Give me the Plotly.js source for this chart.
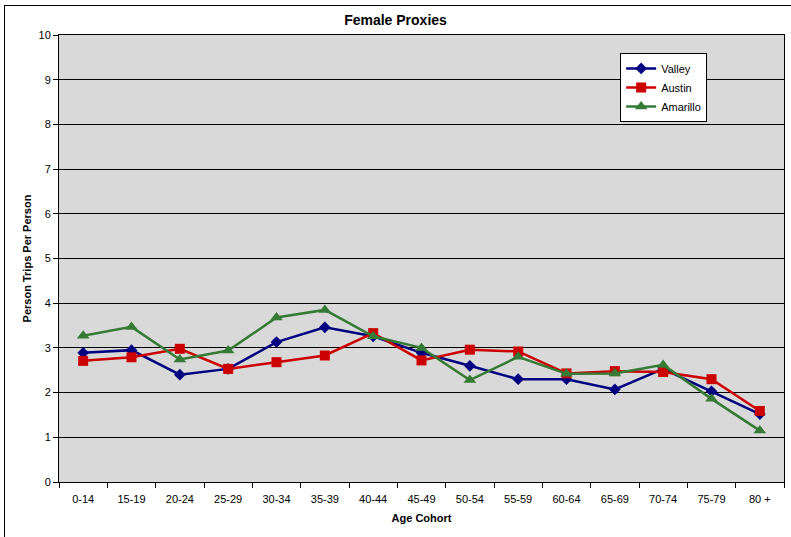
<!DOCTYPE html>
<html><head><meta charset="utf-8">
<script src="https://cdn.plot.ly/plotly-3.0.1.min.js"></script>
<style>
html,body{margin:0;padding:0;background:#fff;}
#chart{width:791px;height:537px;position:relative;}
#frame{position:absolute;left:4px;top:5px;width:800px;height:560px;border:1px solid #000;pointer-events:none;}
</style></head>
<body>
<div style="position:relative;width:791px;height:537px;overflow:hidden;">
<div id="chart"></div>
<div id="frame"></div>
</div>
<script>
const categories = ["0-14","15-19","20-24","25-29","30-34","35-39","40-44","45-49","50-54","55-59","60-64","65-69","70-74","75-79","80 +"];
const valley   = [2.89,2.95,2.40,2.53,3.13,3.46,3.26,2.89,2.60,2.30,2.30,2.07,2.53,2.03,1.52];
const austin   = [2.71,2.79,2.98,2.53,2.68,2.83,3.33,2.72,2.96,2.92,2.43,2.48,2.46,2.30,1.59];
const amarillo = [3.27,3.47,2.74,2.94,3.68,3.85,3.26,3.00,2.28,2.80,2.42,2.43,2.62,1.86,1.15];

const fnt = "'Liberation Sans Narrow','Arial Narrow','Liberation Sans',Arial,sans-serif";
function tr(name, y, color, symbol, size){
  return {x:categories, y:y, name:name, type:'scatter', mode:'lines+markers',
    line:{color:color, width:2.5}, marker:{color:color, symbol:symbol, size:size}};
}
const data = [
  tr('Valley', valley, '#000080', 'diamond', 9),
  tr('Austin', austin, '#cc0000', 'square', 10),
  tr('Amarillo', amarillo, '#357a35', 'triangle-up', 11)
];
const layout = {
  width:791, height:537,
  margin:{l:59, r:7, t:35, b:55},
  paper_bgcolor:'#ffffff', plot_bgcolor:'#d9d9d9',
  font:{family:fnt, size:11, color:'#000'},
  title:{text:'<b>Female Proxies</b>', x:0.5, xanchor:'center', y:0.962, yanchor:'middle', font:{family:fnt, size:14}},
  showlegend:true,
  legend:{x:0.774, y:0.96, xanchor:'left', yanchor:'top', bgcolor:'#ffffff', bordercolor:'#000', borderwidth:1,
    font:{family:"'Liberation Sans',Arial,sans-serif", size:11}, tracegroupgap:0, itemwidth:30},
  xaxis:{type:'category', tickson:'boundaries', ticks:'outside', ticklen:5, tickcolor:'#000',
    showgrid:false, showline:true, linecolor:'#000', linewidth:1, mirror:true,
    range:[-0.5,14.5], tickfont:{family:fnt, size:11}, ticklabelstandoff:7,
    title:{text:'<b>Age Cohort</b>', font:{family:fnt, size:11}, standoff:10}},
  yaxis:{range:[0,10], dtick:1, ticks:'outside', ticklen:5, tickcolor:'#000',
    showgrid:true, gridcolor:'#000', gridwidth:1, zeroline:false,
    showline:true, linecolor:'#000', linewidth:1, mirror:true,
    tickfont:{family:fnt, size:11},
    title:{text:'<b>Person Trips Per Person</b>', font:{family:fnt, size:11}, standoff:4}}
};
Plotly.newPlot('chart', data, layout, {displayModeBar:false, staticPlot:true});
</script>
</body></html>
